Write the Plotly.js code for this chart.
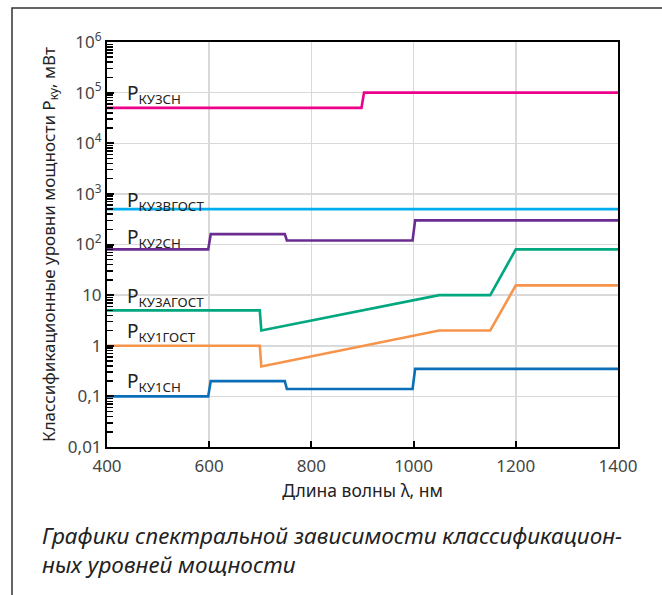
<!DOCTYPE html>
<html>
<head>
<meta charset="utf-8">
<script src="https://cdn.plot.ly/plotly-3.0.1.min.js"></script>
<style>html,body{margin:0;padding:0;background:#fff;}#chart{width:662px;height:595px;}</style>
</head>
<body>
<div id="chart"></div>
<script>
// Wavelength (nm) and class power levels (mW)
const wl_ku1sn = [400, 598, 603, 748, 752, 998, 1003, 1400];
const p_ku1sn  = [0.1, 0.1, 0.2, 0.2, 0.14, 0.14, 0.35, 0.35];

const wl_ku2sn = [400, 598, 603, 748, 752, 998, 1003, 1400];
const p_ku2sn  = [80, 80, 160, 160, 120, 120, 300, 300];

const wl_ku3sn = [400, 898, 903, 1400];
const p_ku3sn  = [50000, 50000, 100000, 100000];

const wl_ku3vgost = [400, 1400];
const p_ku3vgost  = [500, 500];

const wl_ku3agost = [400, 699, 702, 1050, 1150, 1200, 1400];
const p_ku3agost  = [5, 5, 2, 10, 10, 80, 80];

const wl_ku1gost = [400, 699, 702, 1050, 1150, 1200, 1400];
const p_ku1gost  = [1, 1, 0.39, 2, 2, 15.6, 15.6];

const seriesNames = ['КУ3СН', 'КУ3ВГОСТ', 'КУ2СН', 'КУ3АГОСТ', 'КУ1ГОСТ', 'КУ1СН'];
const labelLogY   = [4.98, 2.86, 2.12, 0.97, 0.28, -0.71];

const yTickVals = [0.01, 0.1, 1, 10, 100, 1000, 10000, 100000, 1000000];
const yTickText = ['0,01', '0,1', '1', '10', '10<sup>2</sup>', '10<sup>3</sup>', '10<sup>4</sup>', '10<sup>5</sup>', '10<sup>6</sup>'];
const xTickVals = [400, 600, 800, 1000, 1200, 1400];

const minorVals = [];
for (let e = -2; e < 6; e++) {
  for (let m = 2; m <= 9; m++) minorVals.push(m * Math.pow(10, e));
}

const colors = {
  ku3sn: '#ec008c', ku3vgost: '#00aeef', ku2sn: '#6a2c91',
  ku3agost: '#00a77f', ku1gost: '#f7944b', ku1sn: '#0a6fb8'
};

function tr(x, y, c, ya) {
  return {x: x, y: y, type: 'scatter', mode: 'lines', line: {color: c, width: 2.6}, showlegend: false, hoverinfo: 'skip', yaxis: ya || 'y'};
}

const data = [
  tr(wl_ku3sn, p_ku3sn, colors.ku3sn),
  tr(wl_ku3vgost, p_ku3vgost, colors.ku3vgost, 'y2'),
  tr(wl_ku2sn, p_ku2sn, colors.ku2sn),
  tr(wl_ku3agost, p_ku3agost, colors.ku3agost),
  tr(wl_ku1gost, p_ku1gost, colors.ku1gost),
  tr(wl_ku1sn, p_ku1sn, colors.ku1sn)
];

const font = 'Noto Sans, Open Sans, sans-serif';
const annotations = seriesNames.map((n, i) => ({
  x: 436, y: labelLogY[i], xref: 'x', yref: 'y', xanchor: 'left', yanchor: 'middle',
  text: 'P<sub>' + n + '</sub>', showarrow: false,
  font: {family: font, size: 19, color: '#222'}
}));
annotations.push({
  xref: 'paper', yref: 'paper', x: (40 - 107) / 511, y: (447 - 518) / 405,
  xanchor: 'left', yanchor: 'top', align: 'left', showarrow: false,
  text: '<i>Графики спектральной зависимости классификацион-<br>ных уровней мощности</i>',
  font: {family: font, size: 22.5, color: '#222'}
});

const layout = {
  width: 662, height: 595,
  margin: {l: 107, r: 44, t: 42, b: 148},
  paper_bgcolor: '#fff', plot_bgcolor: '#fff',
  font: {family: font, size: 17, color: '#444'},
  xaxis: {
    range: [400, 1400], tickvals: xTickVals, ticks: 'inside', ticklen: 6, tickcolor: '#000', tickwidth: 2,
    ticklabelstandoff: 3,
    showline: true, linecolor: '#000', linewidth: 2, mirror: true,
    showgrid: true, gridcolor: '#d9d9d9', gridwidth: 1.5, zeroline: false,
    tickfont: {family: font, size: 17, color: '#444'},
    title: {text: 'Длина волны λ, нм', font: {family: font, size: 17.5, color: '#222'}, standoff: 8}
  },
  yaxis: {
    type: 'log', range: [-2, 6], tickvals: yTickVals, ticktext: yTickText,
    ticks: 'inside', ticklen: 7, tickcolor: '#000', tickwidth: 2,
    showline: true, linecolor: '#000', linewidth: 2, mirror: true,
    showgrid: true, gridcolor: '#d9d9d9', gridwidth: 1.5, zeroline: false,
    tickfont: {family: font, size: 17, color: '#444'},
    title: {text: 'Классификационные уровни мощности P<sub>ку</sub>, мВт', font: {family: font, size: 17, color: '#222'}, standoff: 8}
  },
  yaxis2: {
    type: 'log', range: [-2, 6], overlaying: 'y', side: 'left', anchor: 'x',
    tickmode: 'array', tickvals: minorVals, showticklabels: false,
    ticks: 'inside', ticklen: 6, tickcolor: '#000', tickwidth: 1.5,
    showgrid: false, showline: false, zeroline: false
  },
  annotations: annotations,
  shapes: [{
    type: 'rect', xref: 'paper', yref: 'paper',
    x0: (12 - 107) / 511, x1: (700 - 107) / 511,
    y0: (447 - 640) / 405, y1: (447 - 8) / 405,
    line: {color: '#333', width: 1.5}, fillcolor: 'rgba(0,0,0,0)'
  }]
};

Plotly.newPlot('chart', data, layout, {staticPlot: true, displayModeBar: false});
</script>
</body>
</html>
